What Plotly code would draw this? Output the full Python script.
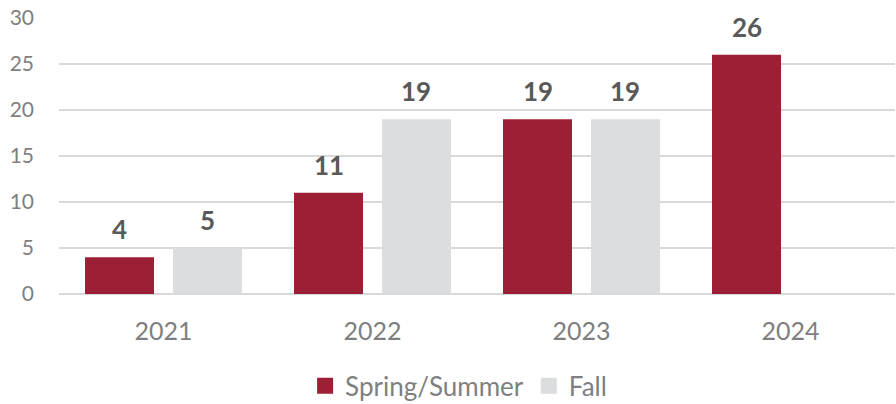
import plotly.graph_objects as go

years = ["2021", "2022", "2023", "2024"]
spring_summer = [4, 11, 19, 26]
fall = [5, 19, 19, None]
y_ticks = [0, 5, 10, 15, 20, 25, 30]
series_names = ["Spring/Summer", "Fall"]

RED = "#9B2035"
GRAY = "#DCDDDE"
FONT = "Lato"

fig = go.Figure()
fig.add_trace(go.Bar(name=series_names[0], x=years, y=spring_summer, marker_color=RED,
                     marker_line_width=0, showlegend=False))
fig.add_trace(go.Bar(name=series_names[1], x=years, y=fall, marker_color=GRAY,
                     marker_line_width=0, showlegend=False))
# legend entries with larger square swatches
for name, col in zip(series_names, (RED, GRAY)):
    fig.add_trace(go.Scatter(name=name, x=[None], y=[None], mode="markers",
                             marker=dict(symbol="square", size=16, color=col),
                             showlegend=True, hoverinfo="skip"))

bargap = 0.158
groupgap = 0.216
slot_off = (1 - bargap) / 4
for i, yr in enumerate(years):
    for off, vals in ((-slot_off, spring_summer), (slot_off, fall)):
        v = vals[i]
        if v is None:
            continue
        fig.add_annotation(x=i + off, y=v, text=f"<b>{v}</b>", showarrow=False,
                           xref="x", yref="y", yanchor="bottom", yshift=10,
                           font=dict(family=FONT, size=26, color="#595959"))

fig.update_layout(
    width=896, height=404,
    margin=dict(l=59, r=1, t=18, b=110, autoexpand=False),
    paper_bgcolor="white", plot_bgcolor="white",
    barmode="group", bargap=bargap, bargroupgap=groupgap,
    font=dict(family=FONT, color="#7F7F7F"),
    showlegend=True,
    legend=dict(orientation="h", x=0.478, xanchor="center", yref="container", y=0.045,
                yanchor="middle",
                font=dict(family=FONT, size=26, color="#7F7F7F"),
                itemwidth=30, traceorder="normal", itemsizing="trace"),
    xaxis=dict(type="category", tickfont=dict(size=25, color="#7F7F7F"), showgrid=False,
               showline=False, ticks="", ticklabelstandoff=20, automargin=False),
    yaxis=dict(range=[0, 30], tickvals=y_ticks, showgrid=True, gridcolor="#D9D9D9",
               gridwidth=1.5, zeroline=True, zerolinecolor="#D9D9D9", zerolinewidth=1.5,
               tickfont=dict(size=21, color="#7F7F7F"), ticks="", ticklabelstandoff=24,
               fixedrange=True, automargin=False),
)

fig.write_html("out.html", config={"displayModeBar": False},
               post_script="document.body.style.margin='0';")
